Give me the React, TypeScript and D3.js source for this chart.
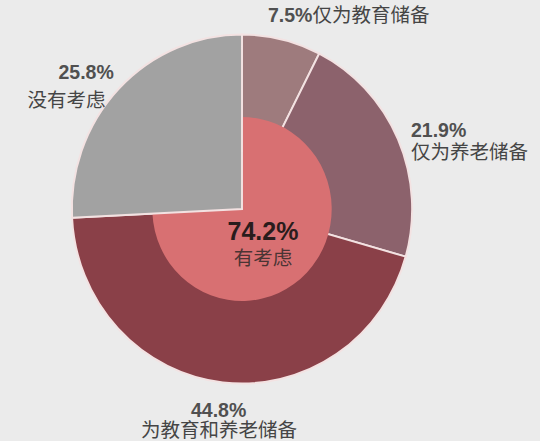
import React from "react";
import * as d3 from "d3";

const outerNames = ["仅为教育储备", "仅为养老储备", "为教育和养老储备", "没有考虑"];
const outerValues = [7.5, 21.9, 44.8, 25.8];
const outerColors = ["#9e7b7d", "#8c626c", "#8a4048", "#a2a2a2"];
const innerNames = ["有考虑", "没有考虑"];
const innerValues = [74.2, 25.8];
const innerColors = ["#d87072", "#a2a2a2"];

const W = 540, H = 441;
const cx = 242, cy = 209;
const R = 174.5, r = 92;
const sx = 0.975;

const FONT = "'Liberation Sans', Arial, 'Noto Sans CJK SC', sans-serif";

export default function App() {
  const pie = d3.pie<number>().sort(null).value((d) => d);
  const outer = pie(outerValues);
  const inner = pie(innerValues);
  const arcOuter = d3.arc<d3.PieArcDatum<number>>().innerRadius(0).outerRadius(R);
  const arcInner = d3.arc<d3.PieArcDatum<number>>().innerRadius(0).outerRadius(r);
  const stroke = "#f3e2e2";

  const fmt = (v: number) => v.toFixed(1) + "%";

  // label layout: [pctX, pctY, nameX, nameY, sameLine]
  const labelPos = [
    { px: 268, py: 22, nx: 0, ny: 0, same: true },
    { px: 411, py: 137, nx: 411, ny: 158.5, same: false },
    { px: 191, py: 417, nx: 141, ny: 437, same: false },
    { px: 58.5, py: 79, nx: 27.5, ny: 107, same: false },
  ];

  return (
    <svg width={W} height={H} style={{ position: "absolute", left: 0, top: 0, background: "#ebebeb" }}>
      <rect width={W} height={H} fill="#ebebeb" />
      <g transform={`translate(${cx},${cy}) scale(${sx},1)`}>
        {outer.slice(0, 3).map((d, i) => (
          <path key={"o" + i} d={arcOuter(d) || ""} fill={outerColors[i]} stroke={stroke} strokeWidth={2} />
        ))}
        <path d={arcInner(inner[0]) || ""} fill={innerColors[0]} stroke="none" />
        <path d={arcOuter(outer[3]) || ""} fill={outerColors[3]} stroke={stroke} strokeWidth={2} />
      </g>
      {outerValues.map((v, i) => {
        const p = labelPos[i];
        if (p.same) {
          return (
            <text key={"l" + i} x={p.px} y={p.py} fontFamily={FONT} fontSize={19.5}>
              <tspan fontWeight="bold" fill="#505050">{fmt(v)}</tspan>
              <tspan fill="#454545">{outerNames[i]}</tspan>
            </text>
          );
        }
        return (
          <g key={"l" + i}>
            <text x={p.px} y={p.py} fontFamily={FONT} fontSize={19.5} fontWeight="bold" fill="#505050">
              {fmt(v)}
            </text>
            <text x={p.nx} y={p.ny} fontFamily={FONT} fontSize={19.5} fill="#454545">
              {outerNames[i]}
            </text>
          </g>
        );
      })}
      <text x={cx + 21} y={240} textAnchor="middle" fontFamily={FONT} fontSize={25} fontWeight="bold" fill="#2a1c1c">
        {fmt(innerValues[0])}
      </text>
      <text x={cx + 21} y={265} textAnchor="middle" fontFamily={FONT} fontSize={19.5} fill="#4a3434">
        {innerNames[0]}
      </text>
    </svg>
  );
}
